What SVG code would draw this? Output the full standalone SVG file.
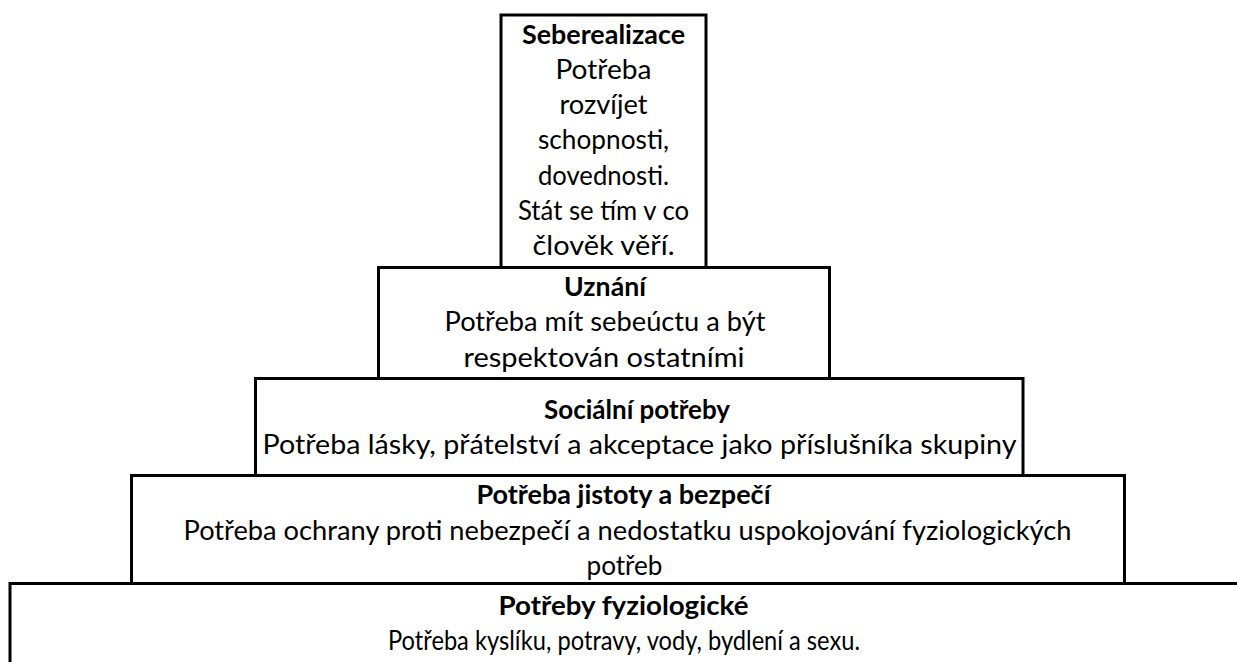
<svg xmlns="http://www.w3.org/2000/svg" width="1237" height="662" viewBox="0 0 1237 662">
<style>
.box{fill:#fff;stroke:#000;stroke-width:3}
.t{font-family:Lato,"Open Sans","Liberation Sans",sans-serif;font-size:27px;fill:#000;text-anchor:middle}
.b{font-weight:bold}
</style>
<rect width="1237" height="662" fill="#fff"/>
<g id="connectors"/>
<g id="seberealizace">
<rect class="box" x="501" y="15" width="205" height="252.5"/>
<text class="t b" x="603.5" y="43.5" textLength="163" lengthAdjust="spacingAndGlyphs">Seberealizace</text>
<text class="t" x="603.5" y="78.8" textLength="96" lengthAdjust="spacingAndGlyphs">Potřeba</text>
<text class="t" x="603.5" y="114.1" textLength="88" lengthAdjust="spacingAndGlyphs">rozvíjet</text>
<text class="t" x="603.5" y="149.4" textLength="131" lengthAdjust="spacingAndGlyphs">schopnosti,</text>
<text class="t" x="603.5" y="184.7" textLength="131" lengthAdjust="spacingAndGlyphs">dovednosti.</text>
<text class="t" x="603.5" y="220" textLength="171" lengthAdjust="spacingAndGlyphs">Stát se tím v co</text>
<text class="t" x="603.5" y="255.3" textLength="142" lengthAdjust="spacingAndGlyphs">člověk věří.</text>
</g>
<g id="uznani">
<rect class="box" x="378.5" y="267.5" width="451" height="111"/>
<text class="t b" x="605" y="296" textLength="82" lengthAdjust="spacingAndGlyphs">Uznání</text>
<text class="t" x="605" y="331.3" textLength="321" lengthAdjust="spacingAndGlyphs">Potřeba mít sebeúctu a být</text>
<text class="t" x="604" y="366.6" textLength="281" lengthAdjust="spacingAndGlyphs">respektován ostatními</text>
</g>
<g id="socialni">
<rect class="box" x="255.5" y="378.5" width="767.5" height="97"/>
<text class="t b" x="637" y="419" textLength="186" lengthAdjust="spacingAndGlyphs">Sociální potřeby</text>
<text class="t" x="639.5" y="454.3" textLength="754" lengthAdjust="spacingAndGlyphs">Potřeba lásky, přátelství a akceptace jako příslušníka skupiny</text>
</g>
<g id="jistota">
<rect class="box" x="131.5" y="475.5" width="993" height="108"/>
<text class="t b" x="623.5" y="504" textLength="294" lengthAdjust="spacingAndGlyphs">Potřeba jistoty a bezpečí</text>
<text class="t" x="627.5" y="539.5" textLength="888" lengthAdjust="spacingAndGlyphs">Potřeba ochrany proti nebezpečí a nedostatku uspokojování fyziologických</text>
<text class="t" x="624.5" y="575" textLength="76" lengthAdjust="spacingAndGlyphs">potřeb</text>
</g>
<g id="fyziologicke">
<rect class="box" x="10" y="583.5" width="1240" height="100"/>
<text class="t b" x="623.5" y="615" textLength="250" lengthAdjust="spacingAndGlyphs">Potřeby fyziologické</text>
<text class="t" x="624" y="650.3" textLength="472" lengthAdjust="spacingAndGlyphs">Potřeba kyslíku, potravy, vody, bydlení a sexu.</text>
</g>
</svg>
